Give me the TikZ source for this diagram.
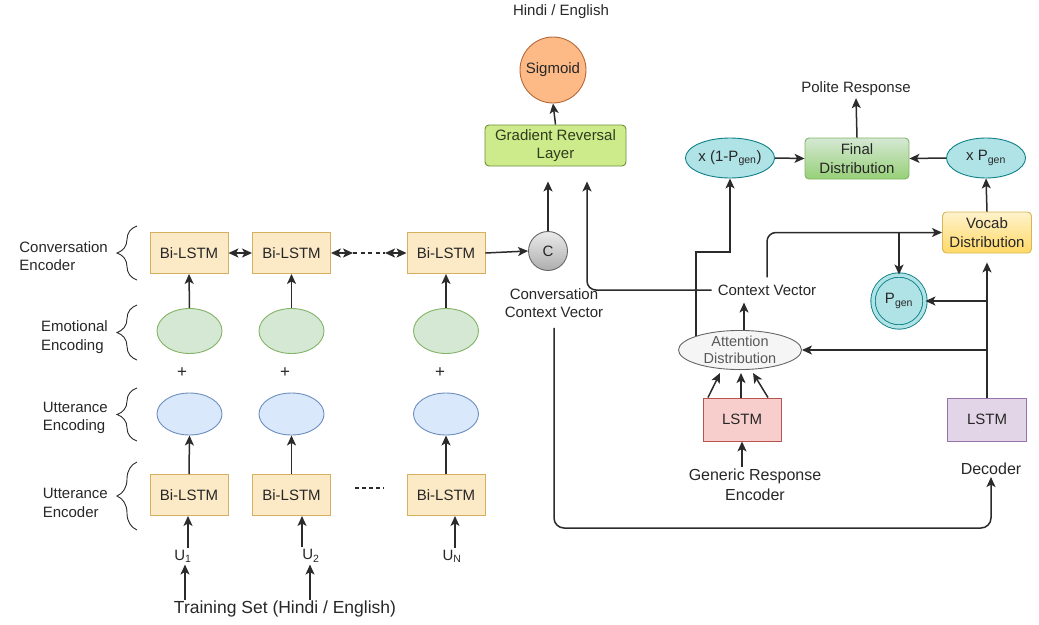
\documentclass[tikz,border=0pt]{standalone}
\usepackage{fontspec}
\setmainfont{Liberation Sans}
\usetikzlibrary{arrows.meta,decorations.pathreplacing,shapes.geometric,calc}

\definecolor{lc}{HTML}{2B2B2B}
\definecolor{txt}{HTML}{272727}
\definecolor{bifill}{HTML}{FCE9C6}
\definecolor{bistroke}{HTML}{D6B060}
\definecolor{emfill}{HTML}{D5E8D4}
\definecolor{emstroke}{HTML}{82B366}
\definecolor{uefill}{HTML}{DAE8FC}
\definecolor{uestroke}{HTML}{6C8EBF}
\definecolor{sigfill}{HTML}{FDBA86}
\definecolor{sigstroke}{HTML}{B46A3A}
\definecolor{grlfill}{HTML}{CDEB8B}
\definecolor{grlstroke}{HTML}{6D8F3A}
\definecolor{grltext}{HTML}{2F3B1F}
\definecolor{tealfill}{HTML}{B0E3E6}
\definecolor{tealstroke}{HTML}{0E8088}
\definecolor{fdtop}{HTML}{D5E8D4}
\definecolor{fdbot}{HTML}{97D077}
\definecolor{vtop}{HTML}{FFF2CC}
\definecolor{vbot}{HTML}{FFD966}
\definecolor{vstroke}{HTML}{D6B656}
\definecolor{attfill}{HTML}{F5F5F5}
\definecolor{attstroke}{HTML}{666666}
\definecolor{elfill}{HTML}{F8CECC}
\definecolor{elstroke}{HTML}{B85450}
\definecolor{dlfill}{HTML}{E1D5E7}
\definecolor{dlstroke}{HTML}{9673A6}

\begin{document}
\begin{tikzpicture}[x=1pt,y=-1pt,
  every node/.style={font=\fontsize{15}{18.5}\selectfont, text=txt, align=center},
  ln/.style={draw=lc, line width=1.5pt},
  tip/.tip={Stealth[length=10pt,width=9pt,inset=2.5pt]},
  arr/.style={ln, -tip},
  dbl/.style={ln, tip-tip},
  grpbrace/.style={draw=lc, line width=0.9pt, decorate, decoration={brace, amplitude=20pt}},
  grplabel/.style={anchor=east, align=left, inner sep=0pt},
  lstmbox/.style={draw=bistroke, fill=bifill, line width=0.9pt, minimum width=78pt, minimum height=41pt, inner sep=0pt},
  emnode/.style={ellipse, draw=emstroke, fill=emfill, line width=0.9pt, minimum width=65pt, minimum height=45pt},
  uenode/.style={ellipse, draw=uestroke, fill=uefill, line width=0.9pt, minimum width=65pt, minimum height=42pt},
  tealell/.style={ellipse, draw=tealstroke, fill=tealfill, line width=0.9pt, minimum width=79pt, minimum height=40pt, inner sep=0pt},
  plain/.style={inner sep=2pt}
]
\useasboundingbox (0,0) rectangle (1039,624);

% ---- group labels with braces ----
\node[grplabel] (lconv) at (108,256) {Conversation\\Encoder};
\node[grplabel] (lemo) at (108,337) {Emotional\\Encoding};
\node[grplabel] (lutt) at (108,418) {Utterance\\Encoding};
\node[grplabel] (luenc) at (108,503) {Utterance\\Encoder};
\draw[grpbrace] (137,280) -- (137,226);
\draw[grpbrace] (137,360) -- (137,305);
\draw[grpbrace] (137,441) -- (137,388);
\draw[grpbrace] (137,530) -- (137,462);

% ---- conversation encoder row ----
\node[lstmbox] (cb1) at (189,253) {Bi-LSTM};
\node[lstmbox] (cb2) at (291.5,253) {Bi-LSTM};
\node[lstmbox] (cb3) at (446,253) {Bi-LSTM};
\coordinate (dsA) at (353,253);
\coordinate (dsB) at (385,253);
\draw[dbl] (cb1.east) -- (cb2.west);
\draw[dbl] (cb2.east) -- (dsA);
\draw[ln, dash pattern=on 4pt off 3.5pt] (dsA) -- (dsB);
\draw[dbl] (dsB) -- (cb3.west);

% ---- emotional encoding ----
\node[emnode] (em1) at (189.5,331) {};
\node[emnode] (em2) at (291.5,331) {};
\node[emnode] (em3) at (446,331) {};

\node[font=\fontsize{17}{17}\selectfont] (pl1) at (182,373) {+};
\node[font=\fontsize{17}{17}\selectfont] (pl2) at (285,373) {+};
\node[font=\fontsize{17}{17}\selectfont] (pl3) at (440,373) {+};

% ---- utterance encoding ----
\node[uenode] (ue1) at (189.5,414) {};
\node[uenode] (ue2) at (291.5,414) {};
\node[uenode] (ue3) at (446,414) {};

% ---- utterance encoder ----
\node[lstmbox] (ub1) at (189,495) {Bi-LSTM};
\node[lstmbox] (ub2) at (291.5,495) {Bi-LSTM};
\node[lstmbox] (ub3) at (446,495) {Bi-LSTM};
\draw[ln, line width=1.1pt, dash pattern=on 4pt off 3pt] (355,488) -- (384,488);

\foreach \i in {1,2,3}{
  \draw[arr] (ub\i.north) -- (ue\i.south);
  \draw[arr] (em\i.north) -- (cb\i.south);
}

% ---- inputs ----
\node[plain] (u1) at (183,556) {U\textsubscript{1}};
\node[plain] (u2) at (311,556) {U\textsubscript{2}};
\node[plain] (un) at (452,556) {U\textsubscript{N}};
\node[font=\fontsize{17.5}{20}\selectfont, inner sep=1pt] (ts) at (285,609) {Training Set (Hindi / English)};
\draw[arr] ([xshift=5pt]u1.north) -- ([xshift=5pt]u1.north |- ub1.south);
\draw[arr] ([xshift=-9pt]u2.north) -- ([xshift=-9pt]u2.north |- ub2.south);
\draw[arr] ([xshift=3pt]un.north) -- ([xshift=3pt]un.north |- ub3.south);
\draw[arr] ([xshift=2pt]u1.south |- ts.north) -- ([xshift=2pt]u1.south);
\draw[arr] ([xshift=-1pt]u2.south |- ts.north) -- ([xshift=-1pt]u2.south);

% ---- conversation context vector ----
\node[circle, draw=attstroke, line width=0.9pt, top color=white!92!black, bottom color=black!32, minimum size=39pt, inner sep=0pt] (cc) at (548,251) {C};
\draw[arr] (cb3.east) -- (cc.west);
\node[plain] (ccv) at (554,303) {Conversation\\Context Vector};

% ---- domain classifier ----
\node[draw=grlstroke, fill=grlfill, rounded corners=4pt, line width=0.9pt, minimum width=141pt, minimum height=41pt, inner sep=0pt, text=grltext] (grl) at (555.5,145.5) {Gradient Reversal\\Layer};
\node[circle, draw=sigstroke, fill=sigfill, line width=0.9pt, minimum size=66pt, inner sep=0pt] (sig) at (553,70) {Sigmoid};
\node[plain] (he) at (561,12) {Hindi / English};
\draw[arr] (grl.north) -- (sig.south);
\draw[arr, shorten >=15pt] (cc.north) -- (cc.north |- grl.south);

% ---- generic response encoder and attention ----
\node[draw=elstroke, fill=elfill, line width=0.9pt, minimum width=78pt, minimum height=43pt, inner sep=0pt] (el) at (742,419.5) {LSTM};
\node[plain, font=\fontsize{16}{20}\selectfont] (gre) at (755,485) {Generic Response\\Encoder};
\draw[arr] (gre.north -| el.south) -- (el.south);
\node[ellipse, draw=attstroke, fill=attfill, line width=0.9pt, minimum width=123pt, minimum height=39pt, inner sep=0pt, text=black!65, font=\fontsize{14.5}{17}\selectfont] (att) at (740,350) {Attention\\Distribution};
\draw[arr] ($(el.north)+(-34,0)$) -- ($(att.south)+(-20,3)$);
\draw[arr] ($(el.north)+(-1,0)$) -- ($(att.south)+(1,3)$);
\draw[arr] ($(el.north)+(26,0)$) -- ($(att.south)+(13,3)$);

\node[inner xsep=6pt, inner ysep=7pt] (cv) at (767,290) {Context Vector};
\draw[arr] ([xshift=4pt]att.north) -- ([xshift=4pt]att.north |- cv.south);

% ---- decoder ----
\node[draw=dlstroke, fill=dlfill, line width=0.9pt, minimum width=79pt, minimum height=43pt, inner sep=0pt] (dl) at (987,419.5) {LSTM};
\node[plain, font=\fontsize{16}{20}\selectfont] (dec) at (991,469) {Decoder};

% ---- pointer-generator outputs ----
\node[tealell] (x1p) at (730,158) {x (1-P\textsubscript{gen})};
\node[draw=emstroke, top color=fdtop, bottom color=fdbot, rounded corners=4pt, line width=0.9pt, minimum width=104pt, minimum height=41pt, inner sep=0pt] (fd) at (857,158.5) {Final\\Distribution};
\node[tealell] (xpg) at (986,158) {x P\textsubscript{gen}};
\node[plain] (pr) at (856,89) {Polite Response};
\node[draw=vstroke, top color=vtop, bottom color=vbot, rounded corners=4pt, line width=0.9pt, minimum width=89pt, minimum height=41pt, inner sep=0pt] (voc) at (987,232.5) {Vocab\\Distribution};
\node[circle, draw=tealstroke, double=tealfill, double distance=3.5pt, line width=0.9pt, fill=tealfill, minimum size=52pt, inner sep=0pt] (pgen) at (899,301) {P\textsubscript{gen}};

\draw[arr] (x1p.east) -- (fd.west);
\draw[arr] (xpg.west) -- (fd.east);
\draw[arr] (fd.north) -- (pr.south);
\draw[arr] (voc.north) -- (xpg.south);

% context vector feeds the vocabulary distribution, p_gen and the GRL
\draw[arr, rounded corners=9pt] (cv.north) |- (voc.west);
\draw[arr] (pgen.north |- voc.west) -- (pgen.north);
\draw[arr, rounded corners=9pt, shorten >=15pt] (cv.west) -| ($(grl.south)+(31.5,0)$);

% attention weights to the copy branch
\coordinate (jog) at (730,252);
\draw[arr] (att.north west) |- (jog) -- (x1p.south);

% decoder state
\draw[arr, shorten >=9pt] (dl.north) -- (voc.south);
\draw[arr] (pgen.east -| dl.north) -- (pgen.east);
\draw[arr] (att.east -| dl.north) -- (att.east);

% conversation context to decoder
\coordinate (low) at (0,528);
\draw[arr, rounded corners=10pt, shorten <=8pt] (ccv.south) -- (ccv.south |- low) -- (low -| dec.south) -- (dec.south);
\end{tikzpicture}
\end{document}
